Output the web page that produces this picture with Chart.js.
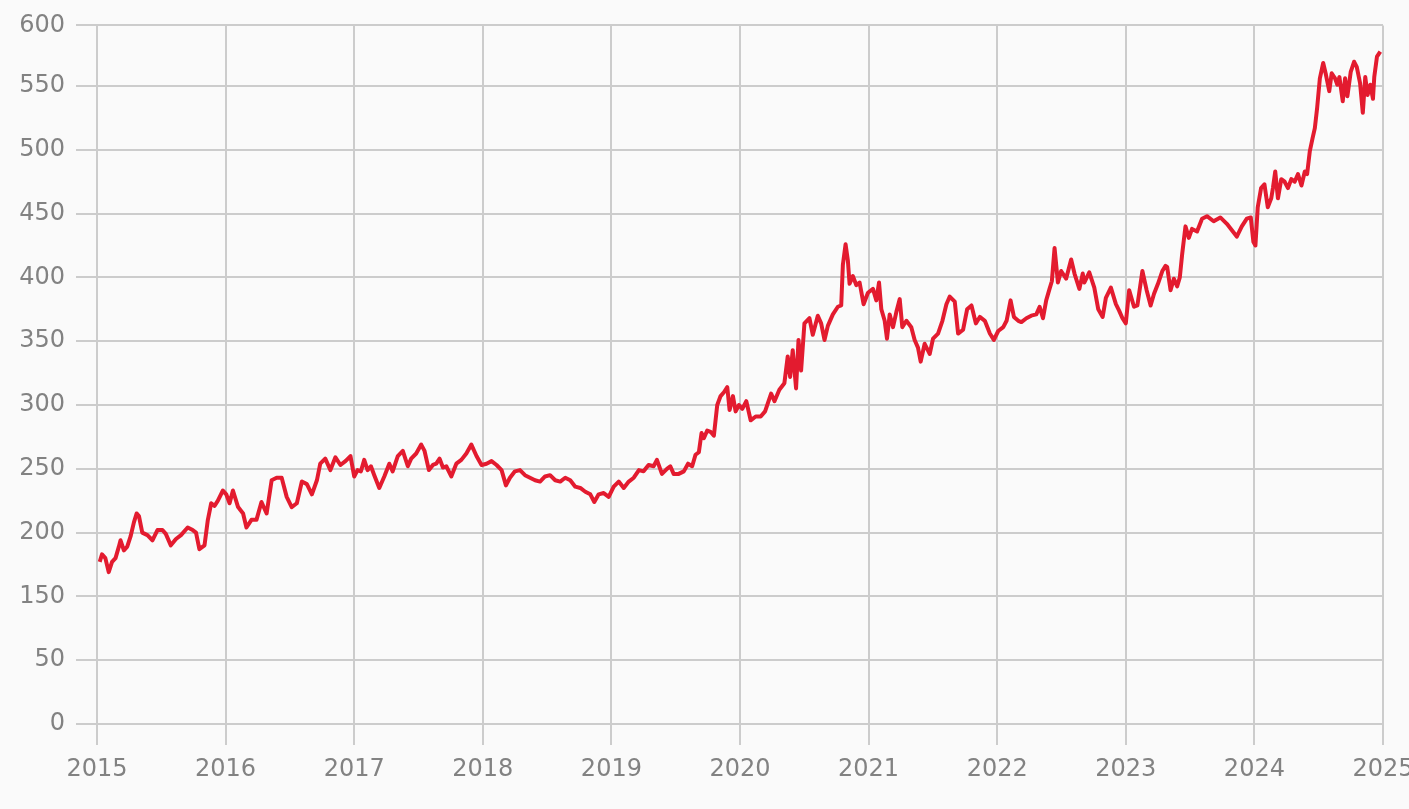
<!DOCTYPE html>
<html>
<head>
<meta charset="utf-8">
<script src="https://cdn.jsdelivr.net/npm/chart.js@4/dist/chart.umd.min.js"></script>
<style>
  html, body { margin: 0; padding: 0; background: #fafafa; overflow: hidden; }
  #wrap { width: 1409px; height: 809px; }
</style>
</head>
<body>
<div id="wrap"><canvas id="c" width="1409" height="809"></canvas></div>
<script>
// ---- data ----
const years = [
  2015.021,2015.039,2015.065,2015.091,2015.117,2015.144,2015.170,2015.183,2015.209,2015.235,
  2015.261,2015.287,2015.308,2015.326,2015.352,2015.392,2015.431,2015.470,2015.509,2015.535,
  2015.574,2015.614,2015.653,2015.705,2015.744,2015.770,2015.796,2015.836,2015.862,2015.888,
  2015.914,2015.940,2015.979,2016.005,2016.031,2016.057,2016.097,2016.136,2016.162,2016.201,
  2016.240,2016.279,2016.319,2016.358,2016.397,2016.436,2016.475,2016.514,2016.554,2016.593,
  2016.632,2016.671,2016.710,2016.736,2016.775,2016.815,2016.854,2016.893,2016.932,2016.971,
  2017.000,2017.026,2017.052,2017.078,2017.104,2017.130,2017.156,2017.195,2017.234,2017.273,
  2017.299,2017.339,2017.378,2017.417,2017.443,2017.482,2017.521,2017.547,2017.581,2017.612,
  2017.638,2017.664,2017.690,2017.716,2017.755,2017.794,2017.833,2017.872,2017.911,2017.951,
  2017.990,2018.029,2018.068,2018.107,2018.146,2018.180,2018.211,2018.250,2018.289,2018.328,
  2018.367,2018.406,2018.445,2018.484,2018.523,2018.563,2018.602,2018.641,2018.680,2018.719,
  2018.758,2018.797,2018.836,2018.867,2018.901,2018.940,2018.979,2019.018,2019.057,2019.096,
  2019.135,2019.174,2019.214,2019.250,2019.289,2019.328,2019.354,2019.393,2019.432,2019.458,
  2019.484,2019.523,2019.563,2019.596,2019.628,2019.654,2019.680,2019.701,2019.719,2019.745,
  2019.771,2019.797,2019.823,2019.849,2019.875,2019.901,2019.919,2019.945,2019.966,2019.992,
  2020.018,2020.049,2020.083,2020.122,2020.161,2020.195,2020.242,2020.268,2020.306,2020.345,
  2020.371,2020.390,2020.410,2020.436,2020.455,2020.475,2020.501,2020.540,2020.566,2020.605,
  2020.631,2020.657,2020.683,2020.722,2020.761,2020.787,2020.800,2020.821,2020.839,2020.852,
  2020.878,2020.904,2020.930,2020.961,2020.995,2021.034,2021.060,2021.081,2021.099,2021.125,
  2021.143,2021.164,2021.190,2021.216,2021.242,2021.262,2021.294,2021.332,2021.358,2021.384,
  2021.405,2021.436,2021.475,2021.501,2021.540,2021.574,2021.605,2021.631,2021.670,2021.696,
  2021.735,2021.766,2021.800,2021.834,2021.865,2021.904,2021.943,2021.974,2022.008,2022.047,
  2022.073,2022.104,2022.130,2022.164,2022.188,2022.227,2022.265,2022.304,2022.330,2022.356,
  2022.381,2022.407,2022.425,2022.446,2022.472,2022.497,2022.536,2022.575,2022.601,2022.639,
  2022.665,2022.678,2022.716,2022.755,2022.786,2022.820,2022.845,2022.884,2022.923,2022.948,
  2022.974,2023.000,2023.026,2023.064,2023.090,2023.129,2023.162,2023.193,2023.219,2023.250,
  2023.284,2023.309,2023.322,2023.348,2023.374,2023.399,2023.420,2023.438,2023.464,2023.490,
  2023.515,2023.554,2023.593,2023.631,2023.683,2023.735,2023.786,2023.825,2023.863,2023.902,
  2023.941,2023.972,2023.992,2024.008,2024.026,2024.052,2024.078,2024.104,2024.131,2024.144,
  2024.162,2024.183,2024.209,2024.235,2024.261,2024.287,2024.313,2024.339,2024.366,2024.392,
  2024.410,2024.431,2024.452,2024.470,2024.488,2024.509,2024.535,2024.556,2024.582,2024.601,
  2024.627,2024.645,2024.661,2024.687,2024.705,2024.723,2024.749,2024.775,2024.796,2024.822,
  2024.843,2024.862,2024.880,2024.901,2024.922,2024.932,2024.953,2024.979
];
const prices = [
  177,183,180,169,177,180,189,194,186,189,
  197,208,215,213,200,198,194,202,202,199,
  190,195,198,204,202,200,187,190,210,223,
  221,225,233,230,223,233,220,215,204,210,
  210,224,215,241,243,243,228,220,223,240,
  238,230,241,254,258,249,259,253,256,260,
  244,249,248,257,249,252,245,235,244,254,
  248,260,264,252,258,262,269,264,249,253,
  254,258,251,252,244,254,257,262,269,260,
  253,254,256,253,249,237,243,248,249,245,
  243,241,240,244,245,241,240,243,241,236,
  235,232,230,224,230,231,228,236,240,235,
  240,243,249,248,253,252,257,246,250,252,
  246,246,248,254,252,261,263,278,274,280,
  279,276,300,307,310,314,296,307,295,300,
  297,303,288,291,291,295,309,303,312,317,
  338,322,343,313,351,327,364,368,355,370,
  364,351,362,371,377,378,410,426,413,395,
  401,394,396,379,388,391,382,396,375,366,
  352,371,361,373,383,361,366,361,351,345,
  334,348,340,352,356,366,379,385,381,356,
  359,375,378,364,369,366,356,351,358,361,
  366,382,369,366,365,368,370,371,377,368,
  382,391,397,423,396,405,399,414,403,391,
  403,396,404,392,375,369,384,392,379,374,
  368,364,390,377,378,405,390,378,387,395,
  405,409,408,390,399,393,400,418,440,431,
  438,436,446,448,444,447,442,437,432,440,
  446,447,428,425,455,470,473,455,462,470,
  483,462,477,475,470,477,475,481,472,483,
  481,499,509,517,533,556,568,559,546,560,
  556,551,557,538,556,542,561,569,565,552,
  529,557,543,551,540,557,573,577,582
];
const xTicks = [2015,2016,2017,2018,2019,2020,2021,2022,2023,2024,2025];
const yTickValues = [50,100,150,200,250,300,350,400,450,500,550,597.5];
const yTickLabels = ['0','50','150','200','250','300','350','400','450','500','550','600'];

const points = years.map((x, i) => ({ x: x, y: prices[i] }));

const FONT = { family: '"DejaVu Sans", sans-serif', size: 24, weight: 'normal' };
const GRID = '#cccccc';
const TEXT = '#828282';

new Chart(document.getElementById('c'), {
  type: 'line',
  data: {
    datasets: [{
      data: points,
      borderColor: '#e31b2f',
      borderWidth: 4,
      pointRadius: 0,
      tension: 0,
      borderJoinStyle: 'round',
      fill: false
    }]
  },
  options: {
    responsive: false,
    animation: false,
    devicePixelRatio: 1,
    layout: { padding: { top: 24, right: 26, left: 0, bottom: 0 } },
    plugins: { legend: { display: false }, tooltip: { enabled: false } },
    scales: {
      x: {
        type: 'linear',
        min: 2015,
        max: 2025,
        afterBuildTicks: (s) => { s.ticks = xTicks.map(v => ({ value: v })); },
        afterFit: (s) => { s.height = 85; s.paddingLeft = 0; s.paddingRight = 0; },
        grid: { color: GRID, lineWidth: 2, tickLength: 21, drawTicks: true },
        border: { display: true, color: GRID, width: 2 },
        ticks: {
          color: TEXT, font: FONT, padding: 10, maxRotation: 0, autoSkip: false,
          callback: (v) => String(v)
        }
      },
      y: {
        type: 'linear',
        min: 50,
        max: 597.5,
        afterBuildTicks: (s) => { s.ticks = yTickValues.map(v => ({ value: v })); },
        afterFit: (s) => { s.width = 97; },
        grid: { color: GRID, lineWidth: 2, tickLength: 21, drawTicks: true },
        border: { display: true, color: GRID, width: 2 },
        ticks: {
          color: TEXT, font: FONT, padding: 11, autoSkip: false,
          callback: (v, i) => yTickLabels[i]
        }
      }
    }
  }
});
</script>
</body>
</html>
